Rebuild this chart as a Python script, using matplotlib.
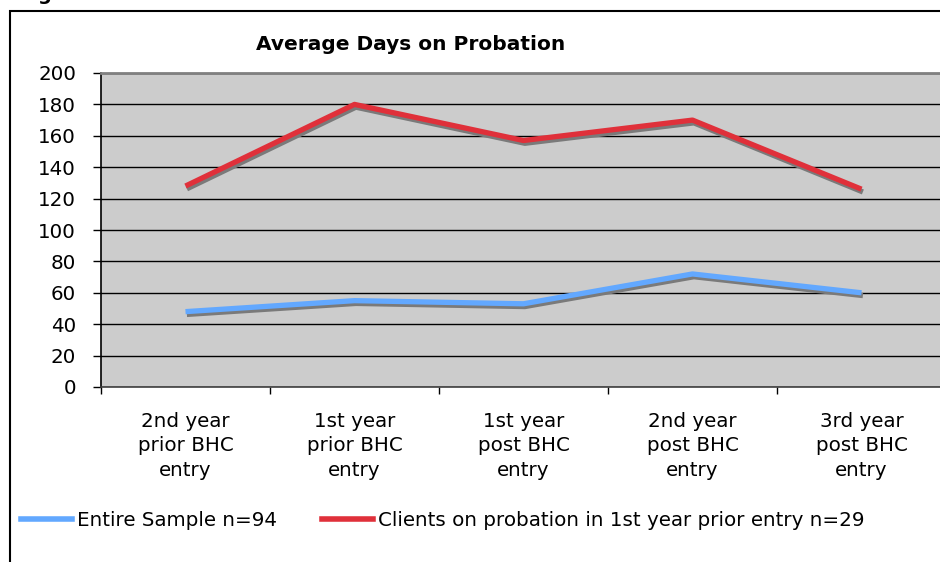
import matplotlib
matplotlib.use('Agg')
import matplotlib.pyplot as plt
import matplotlib.patheffects as pe
from matplotlib.lines import Line2D
from matplotlib.patches import Rectangle

# chart data
categories = ['2nd year\nprior BHC\nentry', '1st year\nprior BHC\nentry', '1st year\npost BHC\nentry',
              '2nd year\npost BHC\nentry', '3rd year\npost BHC\nentry']
entire_sample = [48, 55, 53, 72, 60]
probation_clients = [128, 180, 157, 170, 126]
series_labels = ['Entire Sample n=94', 'Clients on probation in 1st year prior entry n=29']
y_ticks = list(range(0, 201, 20))

# colours
blue = '#62a8ff'
red = '#e0303a'
shadow = [pe.SimpleLineShadow(offset=(1.0, -2.0), shadow_color='#7a7a7a', alpha=1.0), pe.Normal()]

plt.rcParams['font.family'] = ['DejaVu Sans']
fs = 14.3

W, H = 940, 562
fig = plt.figure(figsize=(W / 100, H / 100), dpi=100)

# outer chart border (right and bottom run past the picture)
fig.patches.append(Rectangle((10 / W, -0.05), 1.0, 1 - 11 / H + 0.05, transform=fig.transFigure,
                             fill=False, edgecolor='black', linewidth=1.5))

# cut-off text above the chart
fig.text(37 / W, 1.0, 'g', fontsize=14, fontweight='bold', va='baseline', ha='left')

# plot area
left, right, top, bottom = 101, 946, 73, 387
ax = fig.add_axes([left / W, 1 - bottom / H, (right - left) / W, (bottom - top) / H])
ax.set_facecolor('#cccccc')

x = list(range(len(categories)))
ax.plot(x, entire_sample, color=blue, linewidth=3.8, solid_capstyle='butt', path_effects=shadow, zorder=3)
ax.plot(x, probation_clients, color=red, linewidth=3.8, solid_capstyle='butt', path_effects=shadow, zorder=3)

ax.set_xlim(-0.5, len(categories) - 0.5)
ax.set_ylim(0, 200)
ax.set_yticks(y_ticks)
ax.yaxis.grid(True, color='black', linewidth=1.0)
ax.set_axisbelow(True)

# category ticks between groups, labels at centres
ax.set_xticks(x)
ax.set_xticklabels(categories, fontsize=fs, linespacing=1.35)
ax.set_xticks([i - 0.5 for i in range(len(categories) + 1)], minor=True)
ax.tick_params(axis='x', which='major', length=0, pad=18)
ax.tick_params(axis='x', which='minor', length=5, width=1, direction='out')
ax.tick_params(axis='y', length=6, width=1, direction='out', pad=12, labelsize=fs)

ax.spines['right'].set_visible(False)
ax.spines['top'].set_color('#808080')
ax.spines['top'].set_linewidth(2)
ax.spines['left'].set_linewidth(1.2)
ax.spines['bottom'].set_linewidth(1.2)
ax.spines['bottom'].set_color('#404040')

# title
fig.text(411 / W, 1 - 45 / H, 'Average Days on Probation', fontsize=14.5, fontweight='bold',
         ha='center', va='center')

# legend without shadow on the handles
handles = [Line2D([], [], color=blue, linewidth=4), Line2D([], [], color=red, linewidth=4)]
fig.legend(handles, series_labels, loc='center left', bbox_to_anchor=(21 / W, 1 - 520 / H),
           ncol=2, frameon=False, fontsize=fs, handlelength=2.57, handletextpad=0.25,
           columnspacing=2.27, borderpad=0, borderaxespad=0)

fig.savefig('out.png', dpi=100)
